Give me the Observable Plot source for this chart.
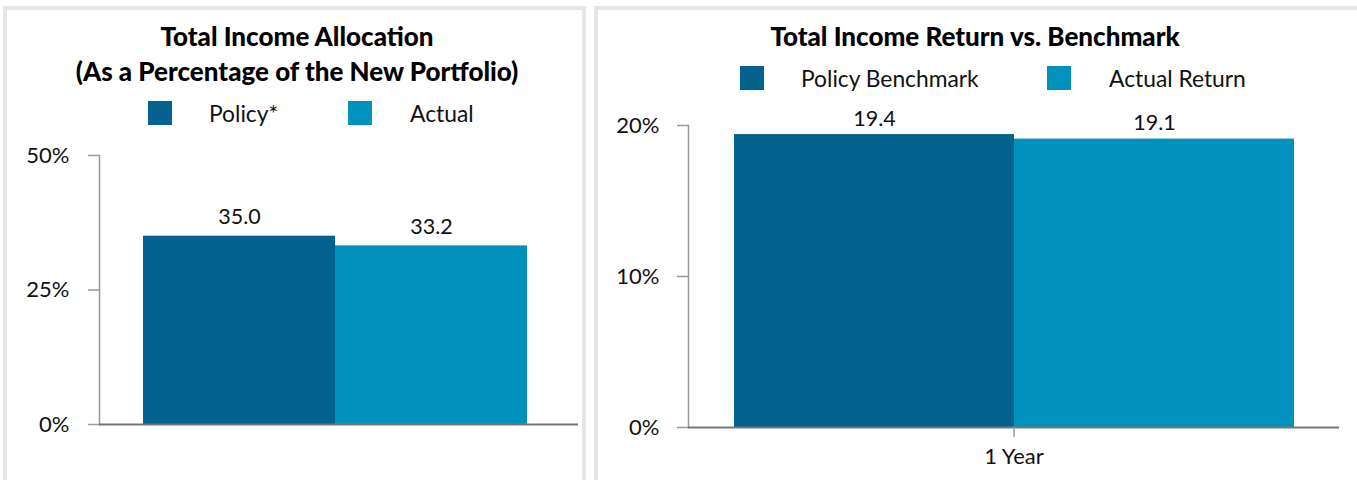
<!DOCTYPE html>
<html><head><meta charset="utf-8">
<script src="https://cdn.jsdelivr.net/npm/d3@7"></script>
<script src="https://cdn.jsdelivr.net/npm/@observablehq/plot@0.6"></script>
<style>
body{margin:0;width:1357px;height:480px;overflow:hidden;background:#fff;font-family:Lato,sans-serif;color:#111;position:relative}
.panel{position:absolute;border:4px solid #e6e6e6;box-sizing:border-box;background:#fff}
.title{position:absolute;font-weight:900;font-size:26px;white-space:nowrap;transform:translateX(-50%);line-height:35px;text-align:center;color:#000}
.sw{position:absolute;width:24px;height:24px}
.lt{position:absolute;font-size:22.8px;white-space:nowrap;line-height:26px}
.chart{position:absolute}
</style></head><body>
<div class="panel" style="left:3px;top:6px;width:583px;height:500px"></div>
<div class="panel" style="left:594px;top:6px;width:790px;height:500px"></div>
<div class="title" style="left:297px;top:19px">Total Income Allocation<br>(As a Percentage of the New Portfolio)</div>
<div class="title" style="left:975px;top:19px">Total Income Return vs. Benchmark</div>
<div id="leg1"></div>
<div id="leg2"></div>
<div class="chart" id="c1" style="left:3px;top:140px"></div>
<div class="chart" id="c2" style="left:595px;top:100px"></div>
<script>
// ---- data ----
const allocSeries = ["Policy*", "Actual"];
const allocValues = [35.0, 33.2];
const allocTicks = [0, 25, 50];

const returnPeriods = ["1 Year"];
const returnSeries = ["Policy Benchmark", "Actual Return"];
const returnValues = [19.4, 19.1];
const returnTicks = [0, 10, 20];

const seriesColors = ["#03628f", "#0092bd"];

const allocData = allocSeries.map((s, i) => ({series: s, value: allocValues[i]}));
const returnData = returnSeries.map((s, i) => ({period: returnPeriods[0], series: s, value: returnValues[i]}));

// ---- legends (HTML) ----
function legend(el, names, sx, tx, top) {
  names.forEach((n, i) => {
    const sw = document.createElement("div");
    sw.className = "sw";
    sw.style.left = sx[i] + "px"; sw.style.top = top + "px";
    sw.style.background = seriesColors[i];
    el.appendChild(sw);
    const t = document.createElement("div");
    t.className = "lt";
    t.style.left = tx[i] + "px"; t.style.top = (top - 1) + "px";
    t.textContent = n;
    el.appendChild(t);
  });
}
legend(document.getElementById("leg1"), allocSeries, [148, 348], [209, 410], 101);
legend(document.getElementById("leg2"), returnSeries, [740, 1047], [801, 1109], 66);

const fmtPct = d => d + "%";
const style = {fontFamily: "Lato, sans-serif", fontSize: "22px", color: "#111", background: "transparent", overflow: "visible"};

// ---- left chart ----
const c1 = Plot.plot({
  width: 583, height: 330,
  marginTop: 15, marginBottom: 46, marginLeft: 96, marginRight: 8,
  style,
  x: {domain: allocSeries, paddingInner: 0, paddingOuter: 0.245, align: 0.46, axis: null},
  y: {domain: [0, 50]},
  color: {domain: allocSeries, range: seriesColors},
  marks: [
    Plot.barY(allocData, {x: "series", y: "value", fill: "series"}),
    Plot.frame({anchor: "left", stroke: "#999", strokeWidth: 1.5}),
    Plot.ruleY([0], {stroke: "#777", strokeWidth: 2}),
    Plot.axisY({ticks: allocTicks, tickSize: 11, tickPadding: 19, tickFormat: fmtPct, stroke: "#999", strokeWidth: 1.5, label: null}),
    Plot.text(allocData, {x: "series", y: "value", text: d => d.value.toFixed(1), dy: -12, lineAnchor: "bottom", fill: "#111", fontSize: 21.5})
  ]
});
document.getElementById("c1").appendChild(c1);

// ---- right chart ----
const c2 = Plot.plot({
  width: 760, height: 380,
  marginTop: 25, marginBottom: 53, marginLeft: 93, marginRight: 16,
  style,
  fx: {domain: returnPeriods, padding: 0},
  x: {domain: returnSeries, paddingInner: 0, paddingOuter: 0.1625, axis: null},
  y: {domain: [0, 20]},
  color: {domain: returnSeries, range: seriesColors},
  marks: [
    Plot.barY(returnData, {fx: "period", x: "series", y: "value", fill: "series"}),
    Plot.frame({anchor: "left", stroke: "#999", strokeWidth: 1.5}),
    Plot.ruleY([0], {stroke: "#777", strokeWidth: 2}),
    Plot.axisY({ticks: returnTicks, tickSize: 11, tickPadding: 18, tickFormat: fmtPct, stroke: "#999", strokeWidth: 1.5, label: null}),
    Plot.axisFx({anchor: "bottom", tickSize: 10, tickPadding: 11, stroke: "#999", strokeWidth: 1.5, label: null}),
    Plot.text(returnData, {fx: "period", x: "series", y: "value", text: d => d.value.toFixed(1), dy: -9, lineAnchor: "bottom", fill: "#111", fontSize: 21.5})
  ]
});
document.getElementById("c2").appendChild(c2);
</script>
</body></html>
